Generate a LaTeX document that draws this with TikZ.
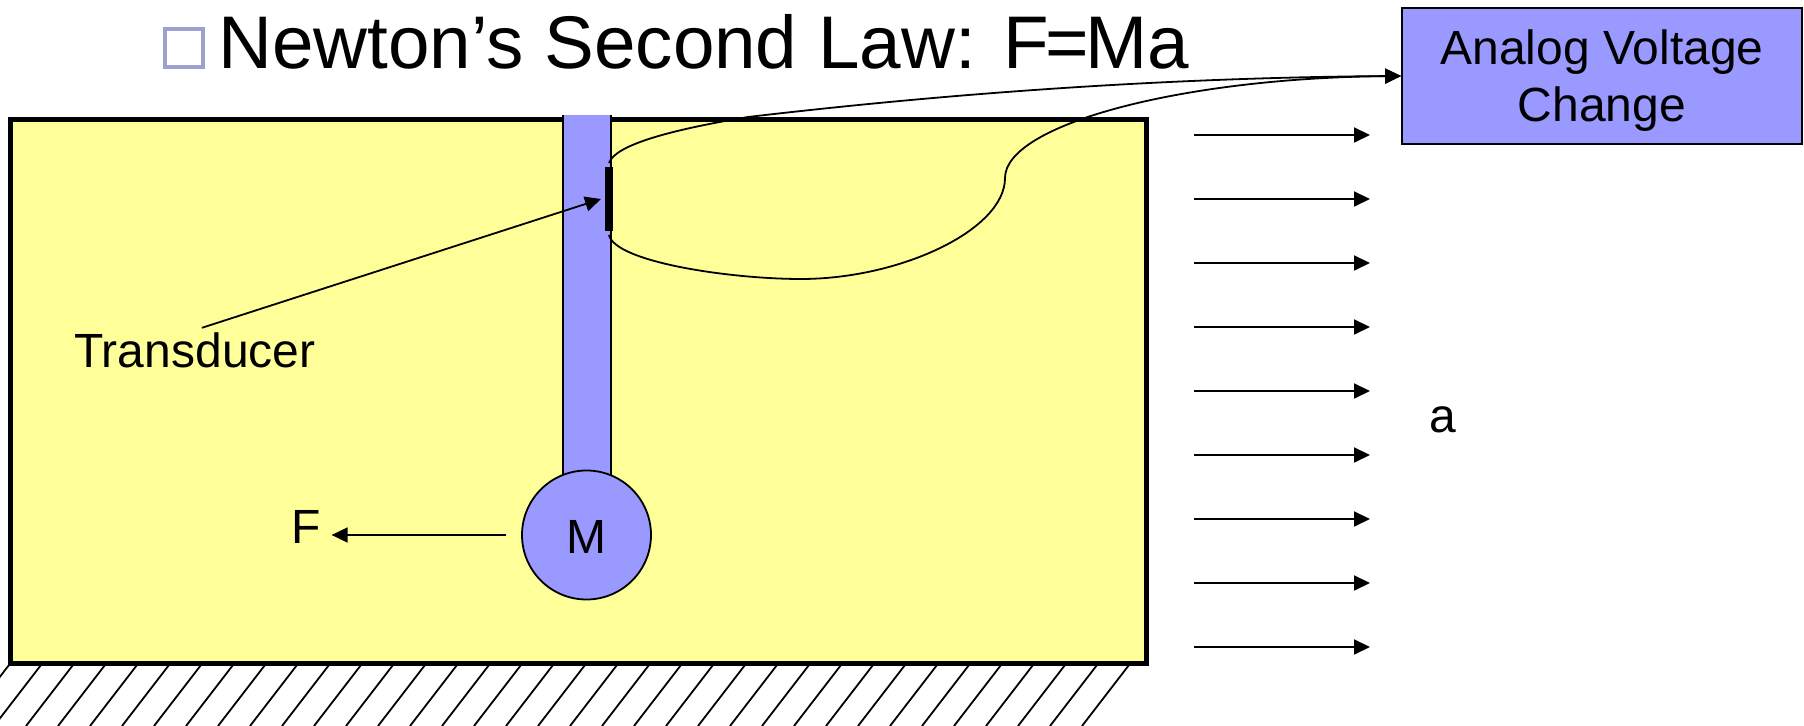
\documentclass[tikz,border=0pt]{standalone}
\usepackage{fontspec}
\setmainfont{Liberation Sans}
\usetikzlibrary{arrows.meta, positioning}
\definecolor{cyellow}{RGB}{255,255,153}
\definecolor{cblue}{RGB}{153,153,255}
\definecolor{cbullet}{RGB}{160,160,208}

\begin{document}
\begin{tikzpicture}[
    x=0.5pt, y=-0.5pt,
    >={Triangle[length=8pt, width=7.5pt]},
    wire/.style={line width=0.9pt},
    label/.style={anchor=base west, inner sep=0pt, font=\fontsize{24}{28.5}\selectfont},
    hatch/.style={line width=0.9pt},
]
    \useasboundingbox (0, 0) rectangle (1804, 726);

    % ground
    \begin{scope}
        \clip (0, 0) rectangle (1804, 726);
        \foreach \x in {9, 41, ..., 1129}
            \draw[hatch] (\x, 665) -- ++(-47, 61);
    \end{scope}

    \node[draw, fill=cyellow, line width=2.75pt, minimum width=568pt, minimum height=272pt, inner sep=0pt] (housing) at (578.25, 391.5) {};
    \node[fill=cblue, minimum width=24pt, minimum height=182.5pt, inner sep=0pt, outer sep=0pt] (beam) at (587, 297.5) {};
    \draw[wire] (beam.north west) -- (beam.south west);
    \draw[wire] (beam.north east) -- (beam.south east);
    \node[draw, circle, fill=cblue, line width=0.9pt, minimum size=64.5pt, inner sep=0pt] (mass) at (586.5, 535) {};
    \node[anchor=base, inner sep=0pt, font=\fontsize{24}{28.5}\selectfont] (masslabel) at (586.5, 553) {M};
    \node[fill=black, minimum width=4pt, minimum height=32pt, inner sep=0pt, outer sep=2pt] (sensor) at (609, 199) {};

    % title
    \node[draw=cbullet, line width=2pt, minimum size=19pt, inner sep=0pt] (bullet) at (184, 48) {};
    \node[anchor=base west, inner sep=0pt, font=\fontsize{37.3}{40}\selectfont] (title) at (218, 69) {Newton’s Second Law: F\kern-1.75pt=\kern-1.75pt Ma};

    \node[draw, fill=cblue, line width=0.9pt, minimum width=200pt, minimum height=68pt, inner sep=0pt] (volt) at (1602, 76) {};
    \node[align=center, inner sep=0pt, font=\fontsize{24}{28.5}\selectfont] (voltlabel) at ([yshift=-2.5pt]volt.center) {Analog Voltage\\Change};

    \node[label] (tlabel) at (74, 368) {Transducer};
    \node[label] (flabel) at (291.5, 544) {F};
    \node[label] (alabel) at (1429, 433) {a};

    % wires
    \draw[wire, ->] (sensor.north) .. controls (615, 145) and (670, 130) .. (748, 117)
        .. controls (860, 104) and (1100, 78) .. (volt.west);
    \draw[wire, ->] (sensor.south) .. controls (615, 262) and (730, 279) .. (801, 279)
        .. controls (900, 279) and (1005, 230) .. (1005, 178)
        .. controls (1005, 125) and (1180, 78) .. (volt.west);

    \draw[wire, ->] ([shift={(3.5pt,2.5pt)}]tlabel.north) -- (sensor.west);
    \draw[wire, ->, shorten <=7.5pt, shorten >=5pt] (mass.west) -- (mass.west -| flabel.east);

    % acceleration arrows
    \foreach \i in {0, ..., 8} {
        \coordinate (acc\i a) at (1194, 135 + 64*\i);
        \coordinate (acc\i b) at (1370, 135 + 64*\i);
        \draw[wire, ->] (acc\i a) -- (acc\i b);
    }
\end{tikzpicture}
\end{document}
